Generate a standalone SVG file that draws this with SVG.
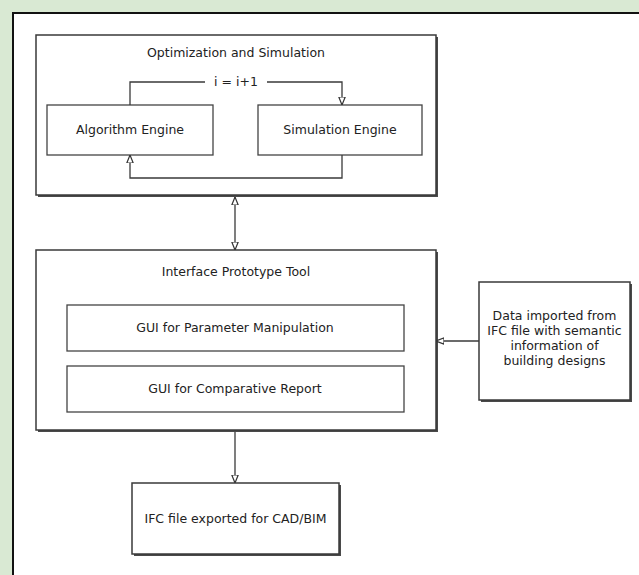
<svg xmlns="http://www.w3.org/2000/svg" width="639" height="575" viewBox="0 0 639 575">
<style>
 .box{fill:#fff;stroke:#3a3a3a;stroke-width:1.5}
 .inner{fill:#fff;stroke:#444;stroke-width:1.3}
 .shadow{fill:#4a4a4a}
 .t{font-family:"DejaVu Sans","Liberation Sans",sans-serif;font-size:12.5px;fill:#222;text-anchor:middle}
 .conn{fill:none;stroke:#3a3a3a;stroke-width:1.3}
</style>
<defs>
 <marker id="open" viewBox="0 0 10 10" refX="10" refY="5" markerWidth="8" markerHeight="8" markerUnits="userSpaceOnUse" orient="auto-start-reverse">
  <path d="M0,1 L10,5 L0,9 z" fill="#fff" stroke="#333" stroke-width="1.5"/>
 </marker>
</defs>
<rect width="639" height="575" fill="#d9e9d3"/>
<rect x="13" y="13" width="626" height="562" fill="#fff"/>
<path d="M13,575 V13 H639" fill="none" stroke="#111" stroke-width="2"/>

<g id="opt">
 <rect class="shadow" x="38" y="37" width="400" height="160"/>
 <rect class="box" x="36" y="35" width="400" height="160"/>
 <text class="t" x="236" y="57">Optimization and Simulation</text>
</g>
<g id="algo">
 <rect class="inner" x="47" y="105" width="166" height="50"/>
 <text class="t" x="130" y="134">Algorithm Engine</text>
</g>
<g id="sim">
 <rect class="inner" x="258" y="105" width="164" height="50"/>
 <text class="t" x="340" y="134">Simulation Engine</text>
</g>
<g id="iface">
 <rect class="shadow" x="38" y="252" width="400" height="180"/>
 <rect class="box" x="36" y="250" width="400" height="180"/>
 <text class="t" x="236" y="276">Interface Prototype Tool</text>
</g>
<g id="gui-param">
 <rect class="inner" x="67" y="305" width="337" height="46"/>
 <text class="t" x="235" y="332">GUI for Parameter Manipulation</text>
</g>
<g id="gui-comp">
 <rect class="inner" x="67" y="366" width="337" height="46"/>
 <text class="t" x="235" y="393">GUI for Comparative Report</text>
</g>
<g id="data">
 <rect class="shadow" x="481" y="284" width="151" height="118"/>
 <rect class="box" x="479" y="282" width="151" height="118"/>
 <text class="t" x="554.5" y="320">Data imported from</text>
 <text class="t" x="554.5" y="335">IFC file with semantic</text>
 <text class="t" x="554.5" y="350">information of</text>
 <text class="t" x="554.5" y="365">building designs</text>
</g>
<g id="ifc">
 <rect class="shadow" x="134" y="485" width="207" height="71"/>
 <rect class="box" x="132" y="483" width="207" height="71"/>
 <text class="t" x="235.5" y="523">IFC file exported for CAD/BIM</text>
</g>

<g id="connectors">
 <path class="conn" d="M130,105 V82 H205"/>
 <path class="conn" d="M267,82 H342 V105" marker-end="url(#open)"/>
 <text class="t" x="236" y="86">i = i+1</text>
 <path class="conn" d="M342,155 V178 H130 V155" marker-end="url(#open)"/>
 <path class="conn" d="M235,197 V250" marker-start="url(#open)" marker-end="url(#open)"/>
 <path class="conn" d="M479,341 H436" marker-end="url(#open)"/>
 <path class="conn" d="M235,432 V483" marker-end="url(#open)"/>
</g>
</svg>
